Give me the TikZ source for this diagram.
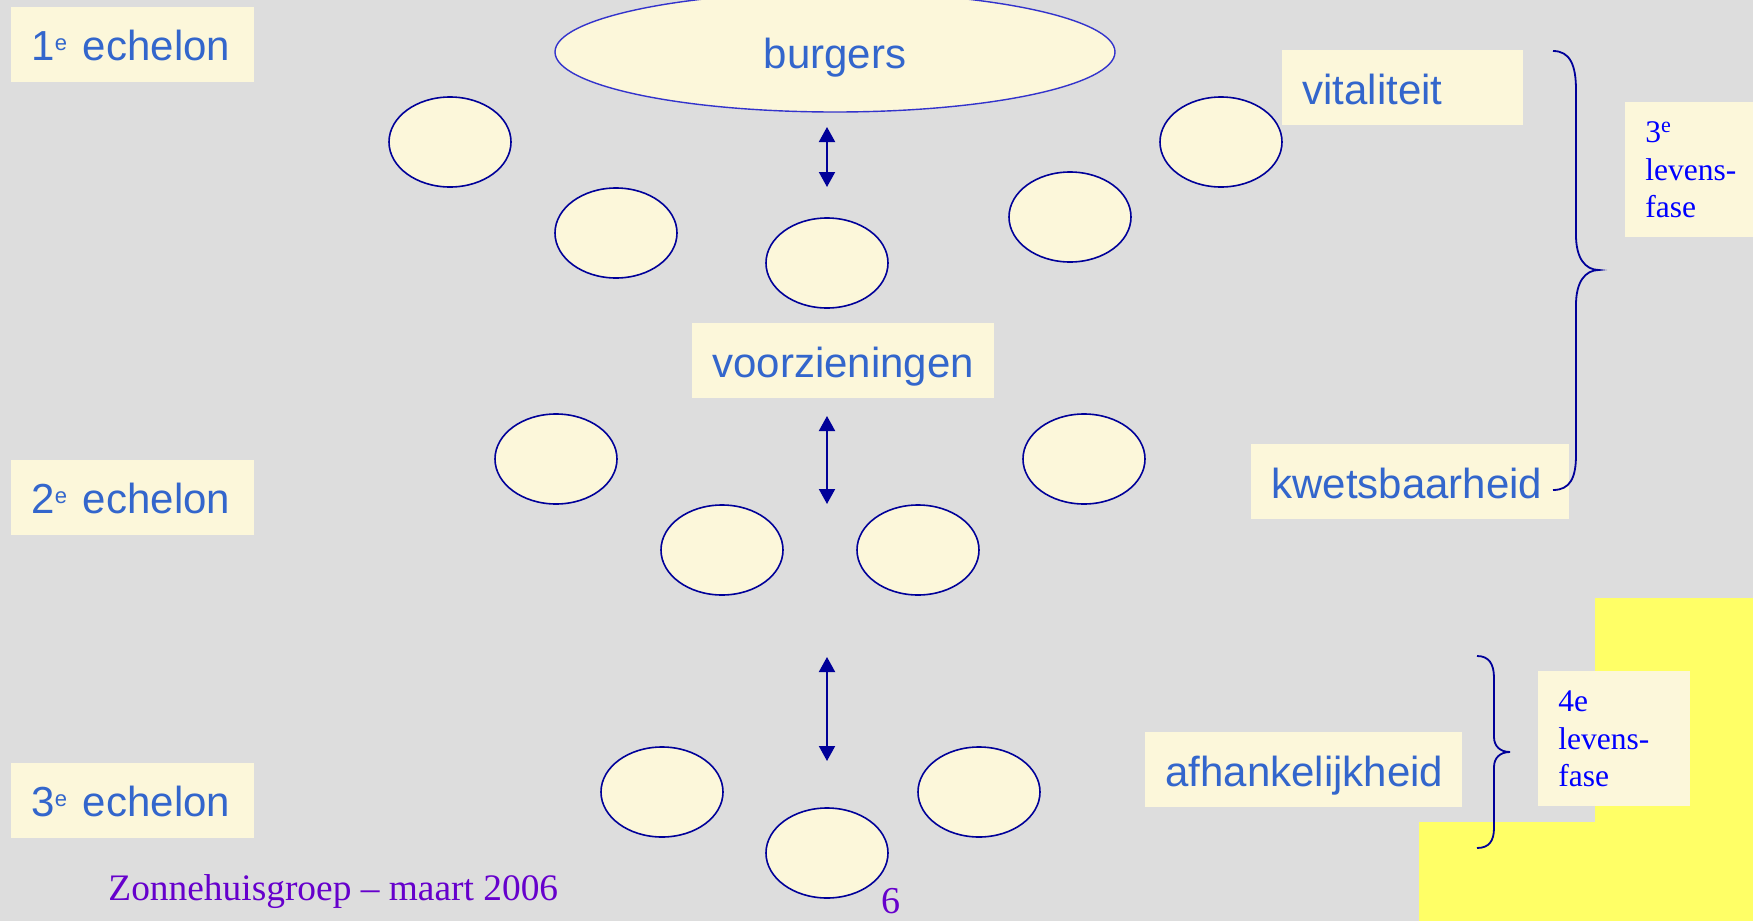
\documentclass[tikz,border=0pt]{standalone}
\usepackage{fontspec}
\setmainfont{Liberation Serif}
\newfontfamily\arialfont{Liberation Sans}
\usepackage{tikz}
\usetikzlibrary{shapes.geometric}
\usetikzlibrary{arrows.meta}
\definecolor{slidegray}{HTML}{DDDDDD}
\definecolor{cream}{HTML}{FCF7DA}
\definecolor{labelblue}{HTML}{3366CC}
\definecolor{navy}{HTML}{000099}
\definecolor{ovalblue}{HTML}{3333CC}
\definecolor{footpurple}{HTML}{6600CC}
\definecolor{hiyellow}{HTML}{FFFF66}
\newcommand\supe{\raisebox{5pt}{\fontsize{11}{11}\selectfont e}\hspace{1pt}}
\tikzset{
    tag/.style={rectangle, fill=cream, anchor=west, inner xsep=10pt, inner ysep=0pt,
        minimum height=37.5pt, text height=21pt, text depth=4.2pt, align=left,
        text=labelblue, font=\arialfont\fontsize{21}{25}\selectfont},
    echtag/.style={tag, text width=101.5pt},
    phase/.style={rectangle, fill=cream, anchor=north west, inner xsep=10pt, inner ysep=0pt,
        minimum height=67.5pt, text width=56pt, align=left, text=blue,
        font=\fontsize{15.75}{18.75}\selectfont},
    oval/.style={ellipse, draw=navy, line width=0.8pt, fill=cream,
        minimum width=61pt, minimum height=45pt, inner sep=0pt},
    bracket/.style={draw=navy, line width=0.9pt},
}

\begin{document}
\begin{tikzpicture}[x=0.5pt, y=-0.5pt, arrow/.style={draw=navy, line width=1pt, <->, >={Triangle[width=8pt,length=7.5pt]}}]
	\useasboundingbox (0,0) rectangle (1753,921);
	\fill[slidegray] (0,0) rectangle (1753,921);
	\fill[hiyellow] (1595,598) -- (1753,598) -- (1753,921) -- (1419,921) -- (1419,822) -- (1595,822) -- cycle;
	\node[echtag] (ech1) at (11,44) {1\supe{} echelon};
	\node[echtag] (ech2) at (11,497) {2\supe{} echelon};
	\node[echtag] (ech3) at (11,800) {3\supe{} echelon};
	\node[oval, draw=ovalblue, line width=0.7pt, minimum width=280pt, minimum height=60pt,
		text height=21pt, text depth=4.2pt, text=labelblue, font=\arialfont\fontsize{21}{25}\selectfont] (burgers) at (835,52) {burgers};
	\foreach \x/\y [count=\i] in {450/142, 616/233, 827/263, 1070/217, 1221/142,
		556/459, 722/550, 918/550, 1084/459, 662/792, 827/853, 979/792}
		\node[oval] (o\i) at (\x,\y) {};
	\node[tag, text width=131pt] (voorz) at (692,360.5) {voorzieningen};
	\node[tag, text width=100.5pt] (vital) at (1282,87.5) {vitaliteit};
	\node[tag, text width=139pt] (kwets) at (1251,481.5) {kwetsbaarheid};
	\node[tag, text width=138.5pt] (afhank) at (1145,769.5) {afhankelijkheid};
	\node[phase] (fase3) at (1625,102) {3\textsuperscript{e}\\levens-\\fase};
	\node[phase] (fase4) at (1538,671) {4e\\levens-\\fase};
	\coordinate (a1t) at (827,127);
	\coordinate (a1b) at (827,187);
	\coordinate (a2t) at (827,416);
	\coordinate (a2b) at (827,504);
	\coordinate (a3t) at (827,657);
	\coordinate (a3b) at (827,761);
	\draw[arrow] (a1t) -- (a1b);
	\draw[arrow] (a2t) -- (a2b);
	\draw[arrow] (a3t) -- (a3b);
	\draw[bracket] (1553,51) .. controls (1570,51) and (1576,65) .. (1576,90) -- (1576,235)
		.. controls (1576,258) and (1585,270) .. (1599,270)
		.. controls (1585,270) and (1576,282) .. (1576,305) -- (1576,455)
		.. controls (1576,478) and (1570,490) .. (1553,490);
	\draw[bracket] (1477,656) .. controls (1489,656) and (1494,664) .. (1494,678) -- (1494,737)
		.. controls (1494,746) and (1500,752) .. (1510,752)
		.. controls (1500,752) and (1494,758) .. (1494,767) -- (1494,828)
		.. controls (1494,841) and (1489,848) .. (1477,848);
	\node[anchor=base west, inner sep=0pt, text=footpurple, font=\fontsize{18.7}{22}\selectfont] (footer) at (108,900) {Zonnehuisgroep – maart 2006};
	\node[anchor=base, inner sep=0pt, text=footpurple, font=\fontsize{19}{23}\selectfont] (pagenr) at (891,913) {6};
\end{tikzpicture}
\end{document}
